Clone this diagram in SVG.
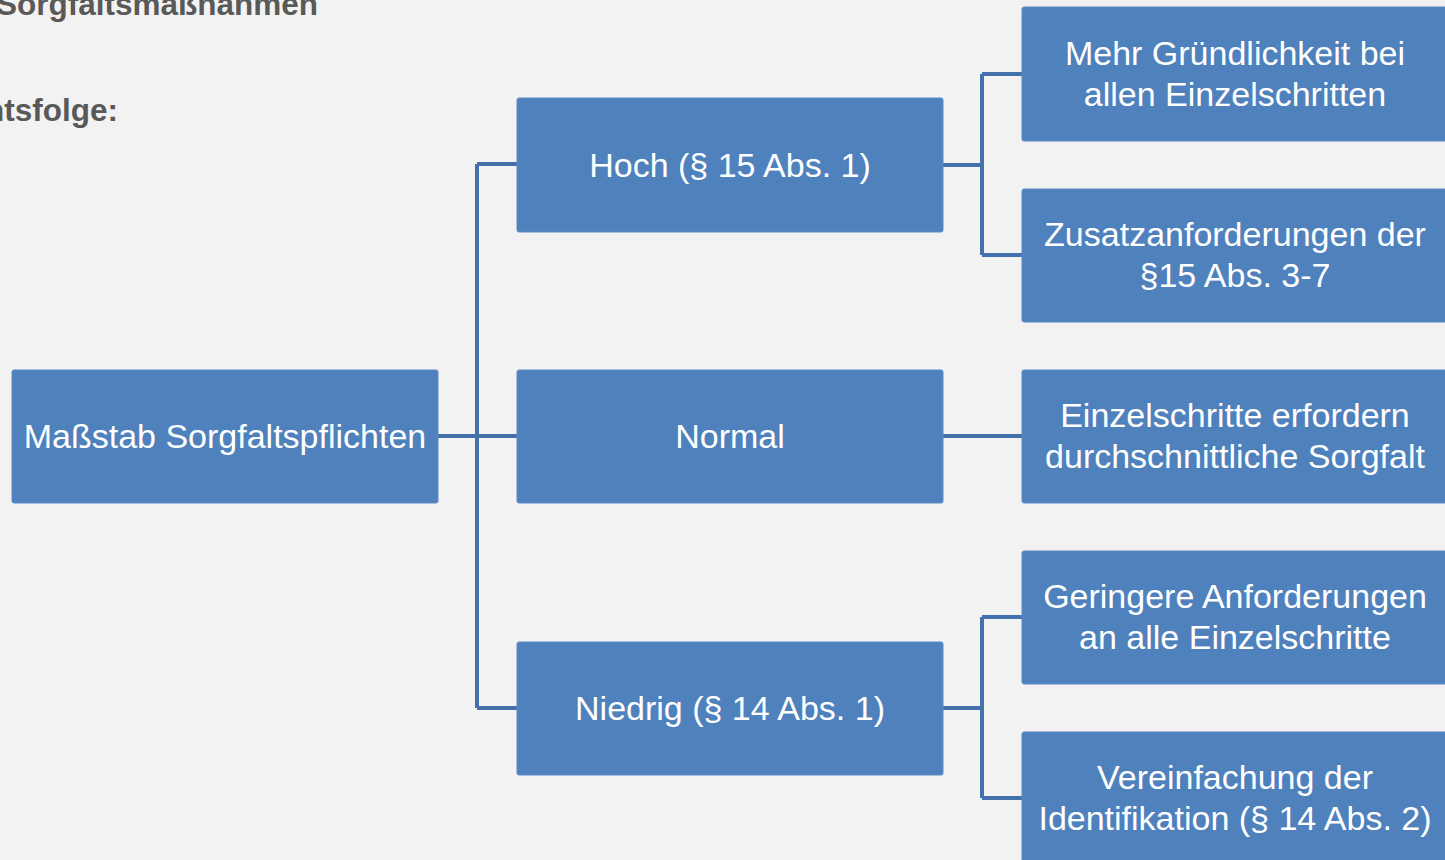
<svg xmlns="http://www.w3.org/2000/svg" width="1445" height="860" viewBox="0 0 1445 860">
<style>
.box{fill:#4f81bd;stroke:#5a8ac4;stroke-width:1}
.t{font-family:"Liberation Sans",Arial,sans-serif;font-size:34px;fill:#ffffff;text-anchor:middle}
.h{font-family:"Liberation Sans",Arial,sans-serif;font-size:31.5px;font-weight:bold;fill:#595959;text-anchor:end}
.c{fill:none;stroke:#4271ab;stroke-width:4;stroke-linejoin:miter}
</style>
<rect x="0" y="0" width="1445" height="860" fill="#f2f2f2"/>
<text class="h" x="318" y="15">Sorgfaltsmaßnahmen</text>
<text class="h" x="118" y="121">Rechtsfolge:</text>
<g id="connectors">
<path class="c" d="M438 436H477M477 164V708M477 164H517M477 436H517M477 708H517"/>
<path class="c" d="M943 165H982M982 74V255M982 74H1022M982 255H1022"/>
<path class="c" d="M943 436H1022"/>
<path class="c" d="M943 708H982M982 617V798M982 617H1022M982 798H1022"/>
</g>
<g id="root">
<rect class="box" x="12" y="370" width="426" height="133" rx="2"/>
<text class="t" x="225" y="448">Maßstab Sorgfaltspflichten</text>
</g>
<g id="hoch">
<rect class="box" x="517" y="98" width="426" height="134" rx="2"/>
<text class="t" x="730" y="177">Hoch (§ 15 Abs. 1)</text>
</g>
<g id="normal">
<rect class="box" x="517" y="370" width="426" height="133" rx="2"/>
<text class="t" x="730" y="448">Normal</text>
</g>
<g id="niedrig">
<rect class="box" x="517" y="642" width="426" height="133" rx="2"/>
<text class="t" x="730" y="720">Niedrig (§ 14 Abs. 1)</text>
</g>
<g id="mehr">
<rect class="box" x="1022" y="7" width="426" height="134" rx="2"/>
<text class="t" x="1235" y="65">Mehr Gründlichkeit bei</text>
<text class="t" x="1235" y="106">allen Einzelschritten</text>
</g>
<g id="zusatz">
<rect class="box" x="1022" y="189" width="426" height="133" rx="2"/>
<text class="t" x="1235" y="246">Zusatzanforderungen der</text>
<text class="t" x="1235" y="287">§15 Abs. 3-7</text>
</g>
<g id="einzel">
<rect class="box" x="1022" y="370" width="426" height="133" rx="2"/>
<text class="t" x="1235" y="427">Einzelschritte erfordern</text>
<text class="t" x="1235" y="468">durchschnittliche Sorgfalt</text>
</g>
<g id="geringer">
<rect class="box" x="1022" y="551" width="426" height="133" rx="2"/>
<text class="t" x="1235" y="608">Geringere Anforderungen</text>
<text class="t" x="1235" y="649">an alle Einzelschritte</text>
</g>
<g id="vereinfachung">
<rect class="box" x="1022" y="732" width="426" height="140" rx="2"/>
<text class="t" x="1235" y="789">Vereinfachung der</text>
<text class="t" x="1235" y="830">Identifikation (§ 14 Abs. 2)</text>
</g>
</svg>
